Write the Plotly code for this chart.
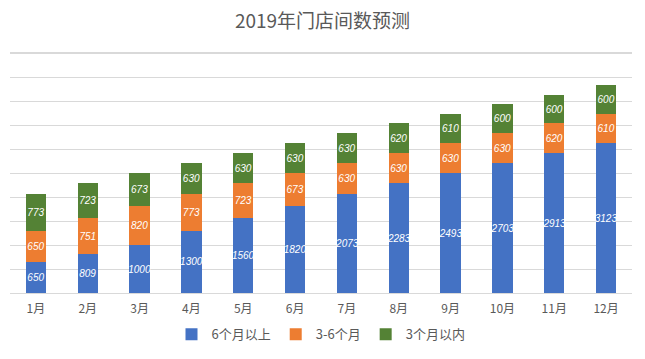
import plotly.graph_objects as go

months = ["1月", "2月", "3月", "4月", "5月", "6月", "7月", "8月", "9月", "10月", "11月", "12月"]
over6 = [650, 809, 1000, 1300, 1560, 1820, 2073, 2283, 2493, 2703, 2913, 3123]
m3to6 = [650, 751, 820, 773, 723, 673, 630, 630, 630, 630, 620, 610]
within3 = [773, 723, 673, 630, 630, 630, 630, 620, 610, 600, 600, 600]

series = [
    ("6个月以上", over6, "#4472C4"),
    ("3-6个月", m3to6, "#ED7D31"),
    ("3个月以内", within3, "#548235"),
]

fig = go.Figure()
for name, vals, color in series:
    fig.add_trace(go.Bar(
        x=months, y=vals, name=name,
        marker=dict(color=color, line=dict(width=0)),
        text=[str(v) for v in vals],
        textposition="inside",
        insidetextanchor="middle",
        textangle=0,
        constraintext="none",
        textfont=dict(color="white", size=10, family="Liberation Sans, Arial", style="italic"),
    ))

fig.update_layout(
    barmode="stack",
    bargap=0.61,
    width=645, height=359,
    margin=dict(l=10, r=13, t=53, b=64),
    paper_bgcolor="white",
    plot_bgcolor="white",
    title=dict(text="2019年门店间数预测", x=0.5, xanchor="center", y=0.94, yanchor="middle",
               font=dict(size=19, color="#595959", family="Noto Sans CJK SC")),
    xaxis=dict(showgrid=False, showline=True, linecolor="#d9d9d9",
               ticks="outside", ticklen=5, tickcolor="rgba(0,0,0,0)",
               tickfont=dict(size=12, color="#595959", family="Noto Sans CJK SC")),
    yaxis=dict(range=[0, 5000], dtick=500, showticklabels=False, gridcolor="#d9d9d9",
               gridwidth=1, zeroline=False, fixedrange=True, showline=False),
    legend=dict(orientation="h", x=0.5, xanchor="center", y=-0.11, yanchor="top",
                traceorder="normal",
                font=dict(size=13, color="#595959", family="Noto Sans CJK SC"),
                itemwidth=30, tracegroupgap=0),
    showlegend=True,
    shapes=[dict(type="line", xref="paper", yref="paper", x0=0, x1=1, y0=1, y1=1,
                 line=dict(color="#d9d9d9", width=2))],
)

fig.write_html("out.html", config={"displayModeBar": False},
               post_script="document.body.style.margin='0';")
